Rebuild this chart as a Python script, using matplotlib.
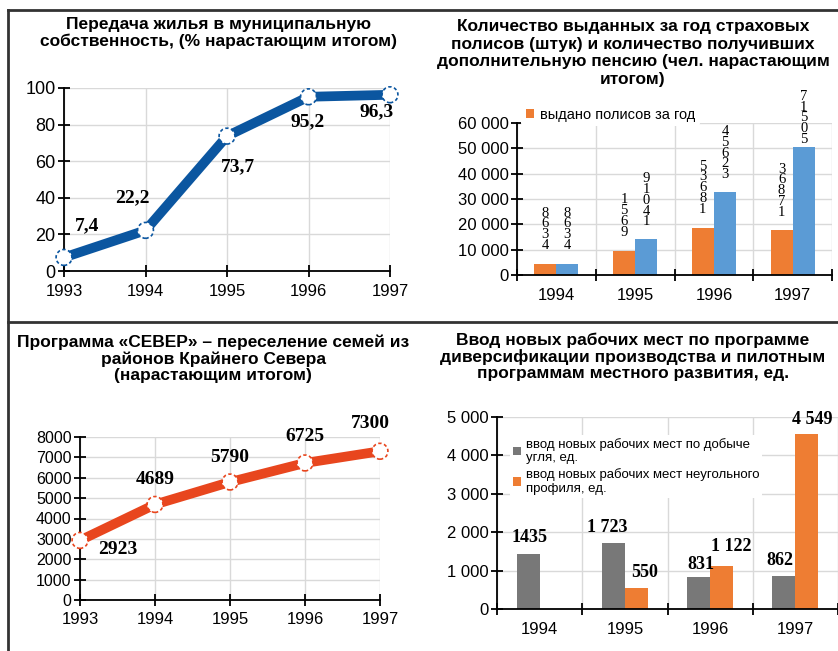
import numpy as np
import matplotlib

matplotlib.use("Agg")
import matplotlib.pyplot as plt
from matplotlib.lines import Line2D

plt.rcParams.update({"font.family": ["Liberation Sans", "DejaVu Sans"],
                     "font.size": 12, "axes.linewidth": 1.3})

# --- data ---
years_line = [1993, 1994, 1995, 1996, 1997]
housing_pct = [7.4, 22.2, 73.7, 95.2, 96.3]
housing_lbl = ["7,4", "22,2", "73,7", "95,2", "96,3"]

sever_families = [2923, 4689, 5790, 6725, 7300]

years_bar = ["1994", "1995", "1996", "1997"]
policies_year = [4368, 9651, 18635, 17863]
pension_total = [4368, 14019, 32654, 50517]

jobs_coal = [1435, 1723, 831, 862]
jobs_noncoal = [np.nan, 550, 1122, 4549]
jobs_coal_lbl = ["1435", "1 723", "831", "862"]
jobs_noncoal_lbl = ["", "550", "1 122", "4 549"]

BLUE_LINE = "#0b56a0"
RED_LINE = "#e8461e"
ORANGE = "#ee7d33"
LBLUE = "#5b9bd5"
GRAY = "#787878"
GRID = "#d9d9d9"

W, H = 838, 651
fig = plt.figure(figsize=(W / 100, H / 100), dpi=100)


def px_axes(l, r, t, b):
    return fig.add_axes([l / W, 1 - b / H, (r - l) / W, (b - t) / H])


def style(ax):
    for s in ("top", "right"):
        ax.spines[s].set_visible(False)
    ax.set_axisbelow(True)
    ax.tick_params(direction="inout", length=8, width=1.3, pad=2)


def line_panel(ax, y, labels, color, offsets, ylim, yticks, ytick_fs):
    style(ax)
    ax.plot(years_line, y, color=color, lw=7, solid_capstyle="round",
            clip_on=False, zorder=3)
    ax.scatter(years_line, y, s=130, facecolor="white", edgecolor=color,
               linewidths=1.2, linestyles=(0, (2, 1.5)), clip_on=False,
               zorder=4)
    for xv, yv, lb, off in zip(years_line, y, labels, offsets):
        ax.annotate(lb, (xv, yv), xytext=off, textcoords="offset pixels",
                    ha="center", va="center", fontsize=14, fontweight="bold",
                    family="Liberation Serif")
    ax.set_xlim(1993, 1997)
    ax.set_ylim(*ylim)
    ax.set_xticks(years_line)
    ax.set_yticks(yticks)
    ax.tick_params(axis="y", labelsize=ytick_fs)
    ax.tick_params(axis="x", pad=5)
    ax.grid(True, color=GRID, lw=1)


# top-left: housing
ax1 = px_axes(64, 390, 88, 271)
line_panel(ax1, housing_pct, housing_lbl, BLUE_LINE,
           [(23, 32), (-13, 33), (11, -31), (-1, -25), (-13, -17)],
           (0, 100), range(0, 101, 20), 13)
fig.text(218 / W, 1 - 33 / H, "Передача жилья в муниципальную\n"
         "собственность, (% нарастающим итогом)", ha="center", va="center",
         fontsize=12.5, fontweight="bold", linespacing=1.2)

# bottom-left: SEVER
ax3 = px_axes(80, 380, 437, 600)
line_panel(ax3, sever_families, [str(v) for v in sever_families], RED_LINE,
           [(38, -9), (0, 25), (0, 25), (0, 26), (-10, 28)],
           (0, 8000), range(0, 8001, 1000), 11.5)
fig.text(213 / W, 1 - 359 / H, "Программа «СЕВЕР» – переселение семей из\n"
         "районов Крайнего Севера\n(нарастающим итогом)", ha="center",
         va="center", fontsize=12.5, fontweight="bold", linespacing=1.12)


def bar_panel(ax, ylim, yticks, ytl):
    style(ax)
    ax.set_xlim(-0.5, 3.5)
    ax.set_ylim(*ylim)
    ax.set_yticks(yticks)
    ax.set_yticklabels(ytl)
    ax.set_xticks(range(4))
    ax.set_xticklabels(years_bar)
    ax.set_xticks(np.arange(-0.5, 4, 1), minor=True)
    ax.tick_params(axis="x", which="major", length=0, pad=9)
    ax.tick_params(axis="x", which="minor", direction="inout", length=8,
                   width=1.3)
    ax.grid(True, axis="y", color=GRID, lw=1)
    ax.grid(True, axis="x", which="minor", color=GRID, lw=1)
    ax.spines["bottom"].set_bounds(-0.5, 3.5)


# top-right: policies / pensions
ax2 = px_axes(517, 832, 123, 275)
bar_panel(ax2, (0, 60000), range(0, 60001, 10000),
          ["0"] + [f"{v} 000" for v in range(10, 61, 10)])
x = np.arange(4)
w = 0.28
ax2.bar(x - w / 2, policies_year, w, color=ORANGE,
        label="выдано полисов за год")
ax2.bar(x + w / 2, pension_total, w, color=LBLUE)
stack_gap = [[12, 12, 12, 11], [12, 11, 11, 1]]
for xs, vals, gaps in ((x - w / 2, policies_year, stack_gap[0]),
                       (x + w / 2, pension_total, stack_gap[1])):
    for xv, v, g in zip(xs, vals, gaps):
        ax2.annotate("\n".join(reversed(str(v))), (xv, v), xytext=(0, g),
                     textcoords="offset pixels", ha="center", va="bottom",
                     fontsize=10.5, family="Liberation Serif",
                     linespacing=0.78, annotation_clip=False)
leg = ax2.legend(loc="lower left", bbox_to_anchor=(-0.01, 0.93),
                 frameon=True, fontsize=10.5, handlelength=0.6,
                 handleheight=0.6, handletextpad=0.4, borderpad=0.3)
leg.get_frame().set_edgecolor("none")
leg.get_frame().set_alpha(1)
fig.text(633 / W, 1 - 53 / H, "Количество выданных за год страховых\n"
         "полисов (штук) и количество получивших\n"
         "дополнительную пенсию (чел. нарастающим\nитогом)", ha="center",
         va="center", fontsize=12.5, fontweight="bold", linespacing=1.2)

# bottom-right: jobs
ax4 = px_axes(497, 838, 417, 609)
bar_panel(ax4, (0, 5000), range(0, 5001, 1000),
          ["0"] + [f"{v} 000" for v in range(1, 6)])
w = 0.27
ax4.bar(x - w / 2, jobs_coal, w, color=GRAY,
        label="ввод новых рабочих мест по добыче\nугля, ед.")
ax4.bar(x + w / 2, jobs_noncoal, w, color=ORANGE,
        label="ввод новых рабочих мест неугольного\nпрофиля, ед.")
coal_off = [(1, 16), (-6, 15), (2, 13), (-4, 15)]
noncoal_off = [(0, 0), (8, 15), (10, 19), (5, 15)]
for xs, vals, lbls, offs in ((x - w / 2, jobs_coal, jobs_coal_lbl, coal_off),
                             (x + w / 2, jobs_noncoal, jobs_noncoal_lbl,
                              noncoal_off)):
    for xv, v, lb, off in zip(xs, vals, lbls, offs):
        if lb:
            ax4.annotate(lb, (xv, v), xytext=off,
                         textcoords="offset pixels", ha="center",
                         va="center", fontsize=13, fontweight="bold",
                         family="Liberation Serif")
leg = ax4.legend(loc="upper left", bbox_to_anchor=(0.02, 0.94),
                 frameon=True, fontsize=9.5, handlelength=0.6,
                 handleheight=0.6, handletextpad=0.4, borderpad=0.2,
                 labelspacing=0.3)
leg.get_frame().set_edgecolor("none")
leg.get_frame().set_alpha(1)
fig.text(633 / W, 1 - 357 / H, "Ввод новых рабочих мест по программе\n"
         "диверсификации производства и пилотным\n"
         "программам местного развития, ед.", ha="center", va="center",
         fontsize=12.5, fontweight="bold", linespacing=1.08)

# frame lines
for xs, ys in (([8, 8], [10, H]), ([8, W], [10, 10]), ([8, W], [322, 322])):
    fig.add_artist(Line2D([v / W for v in xs], [1 - v / H for v in ys],
                          color="#333333", lw=2))

fig.savefig("out.png", dpi=100)
